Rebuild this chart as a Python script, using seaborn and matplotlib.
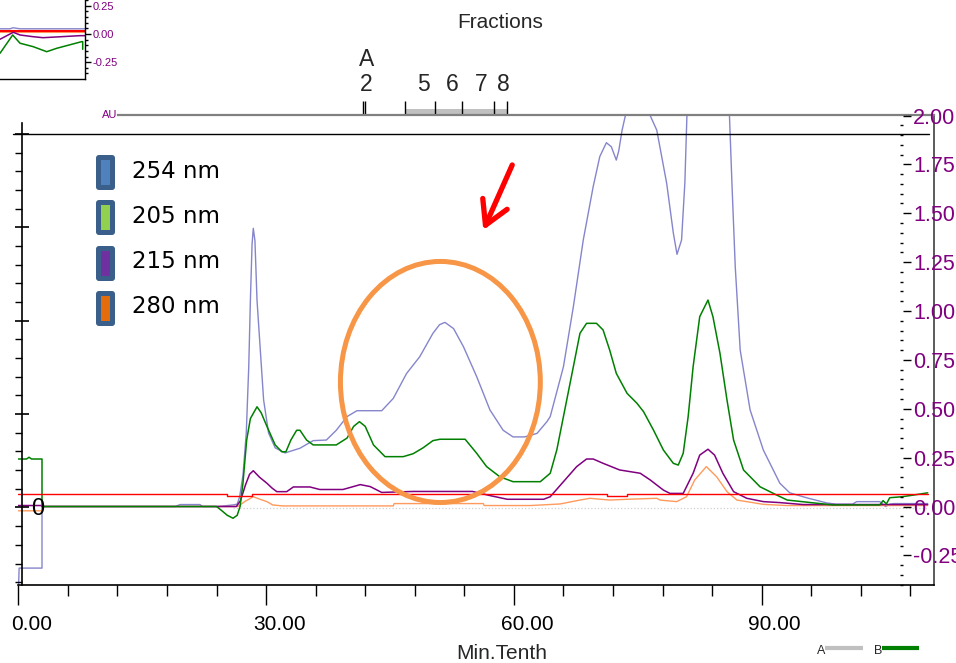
import matplotlib
matplotlib.use("Agg")
import matplotlib.pyplot as plt
import matplotlib.transforms as mtransforms
import numpy as np
import pandas as pd
import seaborn as sns
from matplotlib.patches import Ellipse, FancyArrowPatch, FancyBboxPatch, Rectangle

# ---------------- chromatogram traces: (time [min], absorbance [AU]) ----------------
trace_254 = [
    (0.0, -0.45), (0.1, -0.315), (2.87, -0.315), (2.87, 0.0), (19.0, 0.0), (19.6, 0.01),
    (22.0, 0.01), (22.3, 0.0), (24.2, 0.0), (26.0, 0.008), (26.5, 0.012), (26.8, 0.05),
    (27.2, 0.16), (27.6, 0.376), (27.9, 0.715), (28.1, 1.056), (28.3, 1.34), (28.45, 1.423),
    (28.65, 1.36), (28.9, 1.056), (29.3, 0.80), (29.7, 0.545), (30.3, 0.376), (31.1, 0.30),
    (32.3, 0.274), (34.1, 0.298), (35.7, 0.337), (37.3, 0.34), (38.5, 0.39), (39.8, 0.46),
    (41.0, 0.49), (44.0, 0.49), (45.4, 0.553), (47.0, 0.68), (48.6, 0.766), (50.2, 0.886),
    (51.0, 0.93), (51.65, 0.942), (52.7, 0.91), (53.9, 0.817), (55.5, 0.664), (57.1, 0.494),
    (58.7, 0.39), (59.9, 0.356), (61.3, 0.356), (62.8, 0.374), (64.0, 0.434), (64.4, 0.46),
    (66.0, 0.715), (67.2, 1.022), (68.4, 1.363), (69.6, 1.636), (70.4, 1.79), (71.2, 1.861),
    (71.8, 1.84), (72.4, 1.772), (72.7, 1.82), (73.1, 1.925), (73.5, 2.0), (74.8, 2.15),
    (76.5, 2.0), (77.3, 1.925), (78.5, 1.653), (79.3, 1.40), (79.75, 1.29), (80.3, 1.363),
    (80.7, 1.655), (80.95, 2.0), (81.5, 2.6), (83.5, 2.9), (85.6, 2.4), (86.1, 2.0),
    (86.4, 1.653), (86.8, 1.227), (87.4, 0.80), (88.6, 0.494), (90.2, 0.289), (92.2, 0.119),
    (93.4, 0.07), (95.5, 0.044), (97.9, 0.018), (99.0, 0.012), (101.0, 0.012), (101.5, 0.025),
    (104.3, 0.025), (104.6, 0.015), (105.0, 0.0), (105.5, 0.012), (106.0, 0.015), (110.1, 0.015),
]

trace_205 = [
    (0.0, 0.243), (1.0, 0.243), (1.3, 0.252), (1.6, 0.243), (2.87, 0.243), (2.87, 0.0),
    (24.0, 0.0), (24.6, -0.02), (25.3, -0.045), (26.0, -0.06), (26.5, -0.045), (26.85, 0.0),
    (27.2, 0.12), (27.65, 0.34), (28.1, 0.45), (28.9, 0.51), (29.4, 0.48), (30.1, 0.41),
    (31.1, 0.315), (31.9, 0.28), (32.4, 0.28), (33.0, 0.34), (33.7, 0.39), (34.1, 0.39),
    (34.9, 0.34), (35.7, 0.315), (38.5, 0.315), (39.8, 0.35), (40.6, 0.41), (41.3, 0.434),
    (42.0, 0.41), (43.0, 0.315), (44.4, 0.255), (46.6, 0.255), (47.8, 0.27), (49.0, 0.30),
    (50.2, 0.337), (51.05, 0.344), (54.1, 0.344), (55.5, 0.272), (56.7, 0.204), (58.3, 0.152),
    (59.9, 0.127), (63.2, 0.127), (64.4, 0.17), (65.2, 0.29), (66.0, 0.46), (67.2, 0.715),
    (68.0, 0.886), (68.8, 0.937), (70.0, 0.937), (70.8, 0.903), (71.6, 0.80), (72.4, 0.681),
    (73.7, 0.579), (74.9, 0.528), (75.7, 0.485), (76.9, 0.391), (78.1, 0.289), (79.3, 0.221),
    (79.9, 0.212), (80.5, 0.272), (81.1, 0.46), (81.7, 0.715), (82.5, 0.971), (83.5, 1.056),
    (84.1, 0.971), (84.95, 0.784), (85.8, 0.545), (86.6, 0.34), (87.8, 0.187), (89.8, 0.101),
    (91.8, 0.059), (93.1, 0.033), (98.6, 0.008), (104.3, 0.008), (104.7, 0.03), (105.1, 0.013),
    (105.5, 0.045), (107.0, 0.05), (108.3, 0.058), (110.1, 0.07),
]

trace_215 = [
    (0.0, 0.005), (2.87, 0.005), (2.87, 0.0), (26.4, 0.0), (26.9, 0.03), (27.5, 0.11),
    (28.0, 0.165), (28.45, 0.183), (29.2, 0.15), (30.1, 0.119), (30.7, 0.095), (31.3, 0.076),
    (32.5, 0.076), (33.3, 0.10), (35.3, 0.10), (36.5, 0.087), (39.3, 0.087), (40.4, 0.10),
    (41.4, 0.112), (42.6, 0.102), (44.0, 0.072), (47.8, 0.077), (55.0, 0.077), (57.1, 0.056),
    (59.2, 0.037), (63.6, 0.037), (64.4, 0.05), (66.0, 0.127), (67.6, 0.204), (68.8, 0.243),
    (69.6, 0.243), (70.8, 0.221), (72.8, 0.187), (75.3, 0.17), (76.5, 0.136), (78.1, 0.084),
    (78.9, 0.067), (80.5, 0.067), (81.7, 0.17), (82.5, 0.263), (83.5, 0.293), (84.3, 0.263),
    (85.3, 0.17), (86.6, 0.076), (88.2, 0.042), (90.2, 0.025), (92.2, 0.02), (95.0, 0.01),
    (110.1, 0.01),
]

trace_280 = [
    (0.0, -0.022), (2.87, -0.022), (2.87, 0.0), (26.6, 0.0), (27.4, 0.025), (28.45, 0.05),
    (29.2, 0.038), (30.1, 0.025), (30.8, 0.008), (32.0, 0.003), (45.4, 0.003), (45.5, 0.015),
    (56.3, 0.015), (56.4, 0.005), (62.0, 0.005), (65.6, 0.013), (68.0, 0.033), (69.2, 0.042),
    (71.6, 0.033), (73.7, 0.037), (77.3, 0.042), (77.7, 0.033), (79.7, 0.025), (80.9, 0.05),
    (81.9, 0.136), (83.3, 0.204), (84.55, 0.152), (85.8, 0.076), (87.0, 0.033), (90.2, 0.011),
    (93.0, 0.005), (110.1, 0.005),
]

trace_ref = [
    (0.0, 0.064), (25.3, 0.064), (25.3, 0.054), (28.3, 0.054), (28.3, 0.064), (71.3, 0.064),
    (71.3, 0.054), (73.7, 0.054), (73.7, 0.064), (110.1, 0.064),
]

trace_baseline = [(26.0, -0.008), (110.1, -0.008)]

# ---------------- small overview strip (top-left corner) ----------------
overview_red = [(0.0, 0.03), (8.5, 0.03)]
overview_lavender = [(0.0, 0.046), (1.0, 0.046), (1.3, 0.055), (2.0, 0.046), (8.5, 0.046)]
overview_orange = [(0.0, 0.02), (8.5, 0.02)]
overview_purple = [(0.0, -0.047), (1.33, 0.015), (2.0, -0.009), (3.3, -0.024), (4.3, -0.033),
                   (8.0, -0.015), (8.5, -0.015)]
overview_green = [(0.0, -0.171), (1.27, -0.009), (2.0, -0.082), (3.3, -0.112), (4.67, -0.157),
                  (5.67, -0.127), (8.17, -0.068), (8.27, -0.068), (8.27, -0.136)]

# ---------------- fraction collector ----------------
fraction_edges = [41.7, 42.0, 46.85, 50.5, 53.75, 57.55, 59.2]
fraction_names = ["2", "5", "6", "7", "8"]
fraction_centers = [42.1, 49.0, 52.5, 56.0, 58.7]
fraction_band = (46.85, 59.2)
marker_name, marker_time = "A", 42.2

# ---------------- axes / legend text ----------------
time_major = [0, 30, 60, 90]
time_major_labels = ["0.00", "30.00", "60.00", "90.00"]
time_minor = [t for t in range(6, 109, 6) if t % 30]
au_ticks = [-0.25, 0.0, 0.25, 0.5, 0.75, 1.0, 1.25, 1.5, 1.75, 2.0]
au_labels = ["-0.25", "0.00", "0.25", "0.50", "0.75", "1.00", "1.25", "1.50", "1.75", "2.00"]
left_scale_ticks = [0, 1, 2, 3, 4]
legend_names = ["254 nm", "205 nm", "215 nm", "280 nm"]
legend_fills = ["#4f81bd", "#92d050", "#7030a0", "#e46c0a"]
gradient_names = ["A", "B"]
gradient_colors = ["#c0c0c0", "#008000"]

# ---------------- style ----------------
sns.set_theme(style="white")
plt.rcParams["font.family"] = ["Liberation Sans", "DejaVu Sans"]
plt.rcParams["axes.grid"] = False

W, H = 956, 663
PURPLE = "#800080"
fig = plt.figure(figsize=(W / 100, H / 100), dpi=100)
fig.patch.set_facecolor("white")


def frame(pts):
    t, v = zip(*pts)
    return pd.DataFrame({"time": t, "au": v})


def trace(axis, pts, color, lw=1.0, ls="-", z=2):
    sns.lineplot(data=frame(pts), x="time", y="au", sort=False, estimator=None,
                 ax=axis, color=color, linewidth=lw, linestyle=ls, zorder=z)


# main plotting area (pixel box: x 18..934, y 115..585)
PX_L, PX_R, PX_T, PX_B = 18.3, 934.3, 115.0, 585.0
ax = fig.add_axes([PX_L / W, 1 - PX_B / H, (PX_R - PX_L) / W, (PX_B - PX_T) / H])
ax.patch.set_alpha(0)
T_MAX = 110.9
Y_LO, Y_HI = -0.4015, 2.0026
px_per_min = (PX_R - PX_L) / T_MAX

trace(ax, trace_baseline, "#d0d0d0", lw=0.9, ls=":", z=1)
trace(ax, trace_254, "#8585cc", lw=1.0, z=2)
trace(ax, trace_280, "#ff9a5c", lw=1.0, z=3)
trace(ax, trace_215, "#800080", lw=1.1, z=4)
trace(ax, trace_205, "#008000", lw=1.1, z=5)
trace(ax, trace_ref, "#ff0000", lw=1.0, z=6)

ax.set_xlim(0, T_MAX)
ax.set_ylim(Y_LO, Y_HI)
ax.set_xlabel("")
ax.set_ylabel("")
ax.set_yticks([])

ax.spines["left"].set_visible(False)
ax.spines["bottom"].set_color("black")
ax.spines["bottom"].set_linewidth(1.2)
ax.spines["right"].set_color("#404040")
ax.spines["right"].set_linewidth(1.2)
ax.spines["top"].set_color("#808080")
ax.spines["top"].set_linewidth(1.6)
ax.spines["top"].set_bounds((118 - PX_L) / px_per_min, T_MAX)

ax.set_xticks(time_major)
ax.set_xticklabels(time_major_labels)
ax.set_xticks(time_minor, minor=True)
ax.tick_params(axis="x", which="major", direction="out", length=14.4, width=1.0,
               color="black", pad=7, labelsize=15, labelcolor="black", bottom=True)
ax.tick_params(axis="x", which="minor", direction="out", length=8, width=1.0,
               color="black", bottom=True)
# the time labels sit a little to the right of their ticks
shift = mtransforms.ScaledTranslation(0.13, 0, fig.dpi_scale_trans)
for lab in ax.get_xticklabels():
    lab.set_transform(lab.get_transform() + shift)

# right-hand AU scale, ticks set slightly inside the frame
ax_r = ax.twinx()
ax_r.set_ylim(Y_LO, Y_HI)
for s in ax_r.spines.values():
    s.set_visible(False)
ax_r.spines["right"].set_position(("axes", (902.5 - PX_L) / (PX_R - PX_L)))
ax_r.set_yticks(au_ticks)
ax_r.set_yticklabels(au_labels)
ax_r.set_yticks(np.round(np.arange(-0.40, 2.0001, 0.05), 2), minor=True)
ax_r.tick_params(axis="y", which="major", direction="out", length=5.4, width=1.0,
                 color="black", labelcolor=PURPLE, labelsize=15.5, pad=2.2)
ax_r.tick_params(axis="y", which="minor", direction="in", length=2.5, width=1.0, color="black")

# left-hand secondary scale
ax_l = ax.twinx()
ax_l.yaxis.tick_left()
ax_l.set_ylim(-0.830, 4.202)
for s in ax_l.spines.values():
    s.set_visible(False)
ax_l.spines["left"].set_visible(True)
ax_l.spines["left"].set_color("black")
ax_l.spines["left"].set_linewidth(1.2)
ax_l.spines["left"].set_position(("axes", 4 / (PX_R - PX_L)))
ax_l.spines["left"].set_bounds(-0.83, 4.117)
ax_l.set_yticks(left_scale_ticks)
ax_l.set_yticklabels([])
ax_l.set_yticks(np.round(np.arange(-0.8, 4.01, 0.2), 1), minor=True)
ax_l.tick_params(axis="y", which="major", direction="inout", length=10, width=1.2, color="black")
ax_l.tick_params(axis="y", which="minor", direction="out", length=5, width=1.0, color="black")
ax_l.axhline(4.0, xmin=-5.3 / (PX_R - PX_L), xmax=(929 - PX_L) / (PX_R - PX_L),
             color="black", lw=1.0, clip_on=False)

ax.text(2.38, -0.043, "0", ha="center", va="baseline", fontsize=17, color="black", zorder=8)

# highlighted peak and pointer
ax.add_patch(Ellipse((51.1, 0.637), 24.2, 1.233, fill=False, ec="#f79646", lw=3.6, zorder=7))
ax.add_patch(FancyArrowPatch((59.8, 1.747), (56.3, 1.414),
                             arrowstyle="->,head_length=0.42,head_width=0.24",
                             mutation_scale=40, color="#ff0000", lw=3.8,
                             shrinkA=0, shrinkB=0, zorder=7))

# fraction collector track above the frame
xtr = ax.get_xaxis_transform()
ax.axvspan(*fraction_band, ymin=1.0, ymax=1.0128, color="#c0c0c0", lw=0, clip_on=False)
ax.vlines(fraction_edges, 1.0, 1.0298, transform=xtr, colors="black", lw=1.0, clip_on=False)
for name, t in zip(fraction_names, fraction_centers):
    ax.text(t, 1.0511, name, transform=xtr, ha="center", va="baseline", fontsize=16.5)
ax.text(marker_time, 1.1043, marker_name, transform=xtr, ha="center", va="baseline", fontsize=16.5)

# ---------------- overview strip ----------------
ax_o = fig.add_axes([0, 1 - 79 / H, 85 / W, 79 / H])
ax_o.patch.set_alpha(0)
trace(ax_o, overview_lavender, "#8585cc", lw=1.0)
trace(ax_o, overview_orange, "#ff9a5c", lw=1.5)
trace(ax_o, overview_red, "#ff0000", lw=1.5)
trace(ax_o, overview_purple, "#800080", lw=1.1)
trace(ax_o, overview_green, "#008000", lw=1.1)
ax_o.set_xlim(0, 8.5)
ax_o.set_ylim(-0.399, 0.301)
ax_o.set_xlabel("")
ax_o.set_ylabel("")
ax_o.spines["top"].set_visible(False)
ax_o.spines["left"].set_visible(False)
for s in ("right", "bottom"):
    ax_o.spines[s].set_color("black")
    ax_o.spines[s].set_linewidth(1.0)
ax_o.yaxis.tick_right()
ax_o.set_yticks([-0.25, 0.0, 0.25])
ax_o.set_yticklabels(["-0.25", "0.00", "0.25"])
ax_o.set_yticks(np.round(np.arange(-0.35, 0.31, 0.05), 2), minor=True)
ax_o.set_xticks([2.0, 5.5])
ax_o.set_xticklabels([])
ax_o.tick_params(axis="y", which="major", direction="out", length=4, width=1.0,
                 color="black", labelcolor=PURPLE, labelsize=8, pad=1.5)
ax_o.tick_params(axis="y", which="minor", direction="out", length=2.2, width=1.0, color="black")
ax_o.tick_params(axis="x", which="major", direction="out", length=3, width=1.0, color="black")

# ---------------- overlay in pixel units for titles and legends ----------------
ov = fig.add_axes([0, 0, 1, 1], zorder=10)
ov.set_xlim(0, W)
ov.set_ylim(H, 0)
ov.axis("off")
ov.patch.set_visible(False)

ov.text(500, 28, "Fractions", ha="center", va="baseline", fontsize=15)
ov.text(502, 659, "Min.Tenth", ha="center", va="baseline", fontsize=15)
ov.text(117, 115, "AU", ha="right", va="center", fontsize=8, color=PURPLE)

row_tops = [155, 200, 246, 291]
text_baselines = [178.3, 223.3, 268.3, 313.3]
for name, fill, top, base in zip(legend_names, legend_fills, row_tops, text_baselines):
    ov.add_patch(FancyBboxPatch((96, top), 19, 35,
                                boxstyle="round,pad=0,rounding_size=3",
                                fc="#3a5f8b", ec="none"))
    ov.add_patch(Rectangle((101, top + 5), 9, 25, fc=fill, ec="none"))
    ov.text(132, base, name, ha="left", va="baseline", fontsize=16.5,
            family=["DejaVu Sans"], color="black")

for name, col, (x_txt, x0, x1) in zip(gradient_names, gradient_colors,
                                      [(821, 825, 863), (878, 882, 919)]):
    ov.text(x_txt, 654, name, ha="center", va="baseline", fontsize=9)
    ov.plot([x0, x1], [648, 648], color=col, lw=3, solid_capstyle="butt")

fig.savefig("out.png", dpi=100, facecolor="white")
